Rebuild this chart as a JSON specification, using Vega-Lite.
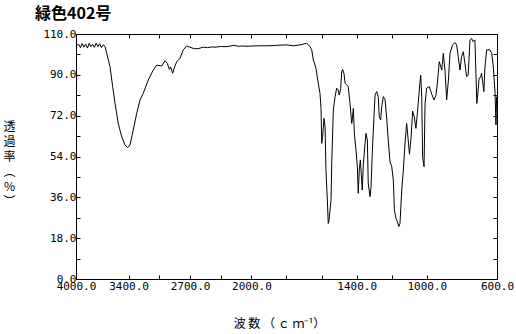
{
  "$schema": "https://vega.github.io/schema/vega-lite/v6.json",
  "width": 421,
  "height": 245,
  "autosize": {"type": "none"},
  "padding": {"left": 76, "top": 34, "right": 19, "bottom": 55},
  "background": "white",
  "title": {
    "text": "緑色402号",
    "anchor": "start",
    "frame": "group",
    "font": "Noto Sans CJK JP",
    "fontSize": 16,
    "fontWeight": "bold",
    "color": "black",
    "dx": -41,
    "dy": -2
  },
  "config": {
    "view": {"stroke": "black", "strokeWidth": 1},
    "axis": {
      "domainColor": "black",
      "tickColor": "black",
      "labelColor": "black",
      "titleColor": "black",
      "grid": false,
      "labelFont": "DejaVu Sans Mono",
      "labelFontSize": 11,
      "labelOverlap": false,
      "labelFlush": false,
      "labelBound": false,
      "tickSize": -4
    }
  },
  "data": {
    "values": [
      {"wn": 3992, "t": 102.8}, {"wn": 3970, "t": 103.5}, {"wn": 3950, "t": 102.0}, {"wn": 3930, "t": 103.8},
      {"wn": 3910, "t": 102.2}, {"wn": 3890, "t": 103.6}, {"wn": 3870, "t": 101.8}, {"wn": 3850, "t": 103.9},
      {"wn": 3830, "t": 102.4}, {"wn": 3810, "t": 103.5}, {"wn": 3790, "t": 102.1}, {"wn": 3770, "t": 104.0},
      {"wn": 3750, "t": 102.5}, {"wn": 3730, "t": 103.7}, {"wn": 3710, "t": 102.0}, {"wn": 3690, "t": 103.2},
      {"wn": 3669, "t": 102.5}, {"wn": 3650, "t": 99.5}, {"wn": 3612, "t": 93.6}, {"wn": 3582, "t": 84.8},
      {"wn": 3555, "t": 77.4}, {"wn": 3518, "t": 68.6}, {"wn": 3479, "t": 62.7}, {"wn": 3441, "t": 59.1},
      {"wn": 3411, "t": 57.9}, {"wn": 3384, "t": 59.1}, {"wn": 3347, "t": 65.7}, {"wn": 3308, "t": 73.0},
      {"wn": 3270, "t": 78.9}, {"wn": 3233, "t": 81.9}, {"wn": 3176, "t": 87.7}, {"wn": 3119, "t": 92.1},
      {"wn": 3080, "t": 94.3}, {"wn": 3023, "t": 93.9}, {"wn": 2985, "t": 96.2}, {"wn": 2959, "t": 95.1},
      {"wn": 2936, "t": 92.4}, {"wn": 2920, "t": 93.5}, {"wn": 2898, "t": 90.7}, {"wn": 2875, "t": 93.5},
      {"wn": 2852, "t": 95.8}, {"wn": 2814, "t": 97.3}, {"wn": 2777, "t": 101.0}, {"wn": 2738, "t": 102.7},
      {"wn": 2700, "t": 102.2}, {"wn": 2650, "t": 101.5}, {"wn": 2600, "t": 101.6}, {"wn": 2550, "t": 102.2},
      {"wn": 2500, "t": 102.0}, {"wn": 2450, "t": 102.3}, {"wn": 2400, "t": 102.2}, {"wn": 2350, "t": 102.5},
      {"wn": 2300, "t": 102.4}, {"wn": 2250, "t": 102.6}, {"wn": 2200, "t": 103.0}, {"wn": 2150, "t": 102.6},
      {"wn": 2100, "t": 102.7}, {"wn": 2050, "t": 102.6}, {"wn": 2000, "t": 102.7}, {"wn": 1950, "t": 102.8},
      {"wn": 1900, "t": 102.8}, {"wn": 1856, "t": 103.0}, {"wn": 1800, "t": 103.2}, {"wn": 1760, "t": 102.8},
      {"wn": 1723, "t": 103.2}, {"wn": 1685, "t": 103.9}, {"wn": 1666, "t": 102.5}, {"wn": 1656, "t": 101.0},
      {"wn": 1647, "t": 96.5}, {"wn": 1632, "t": 92.9}, {"wn": 1619, "t": 86.3}, {"wn": 1609, "t": 81.9},
      {"wn": 1603, "t": 75.2}, {"wn": 1599, "t": 59.8}, {"wn": 1594, "t": 62.7}, {"wn": 1586, "t": 70.8},
      {"wn": 1580, "t": 67.1}, {"wn": 1575, "t": 48.0}, {"wn": 1567, "t": 34.8}, {"wn": 1562, "t": 24.5},
      {"wn": 1558, "t": 25.5}, {"wn": 1552, "t": 30.4}, {"wn": 1546, "t": 34.8}, {"wn": 1542, "t": 51.0},
      {"wn": 1533, "t": 74.5}, {"wn": 1523, "t": 80.4}, {"wn": 1514, "t": 84.1}, {"wn": 1506, "t": 83.4},
      {"wn": 1499, "t": 81.1}, {"wn": 1491, "t": 84.0}, {"wn": 1485, "t": 91.4}, {"wn": 1480, "t": 92.4},
      {"wn": 1472, "t": 90.5}, {"wn": 1466, "t": 86.3}, {"wn": 1448, "t": 84.8}, {"wn": 1438, "t": 77.4},
      {"wn": 1428, "t": 68.6}, {"wn": 1424, "t": 71.0}, {"wn": 1419, "t": 75.2}, {"wn": 1413, "t": 64.2},
      {"wn": 1404, "t": 56.9}, {"wn": 1396, "t": 49.5}, {"wn": 1391, "t": 37.8}, {"wn": 1385, "t": 48.0},
      {"wn": 1379, "t": 52.5}, {"wn": 1374, "t": 46.6}, {"wn": 1368, "t": 39.2}, {"wn": 1362, "t": 50.5},
      {"wn": 1352, "t": 59.8}, {"wn": 1347, "t": 64.2}, {"wn": 1339, "t": 61.3}, {"wn": 1334, "t": 42.2},
      {"wn": 1324, "t": 36.3}, {"wn": 1318, "t": 40.5}, {"wn": 1311, "t": 55.4}, {"wn": 1305, "t": 65.7},
      {"wn": 1295, "t": 81.1}, {"wn": 1286, "t": 82.6}, {"wn": 1277, "t": 80.4}, {"wn": 1271, "t": 71.5},
      {"wn": 1263, "t": 70.1}, {"wn": 1257, "t": 76.0}, {"wn": 1248, "t": 80.4}, {"wn": 1238, "t": 79.0},
      {"wn": 1228, "t": 70.1}, {"wn": 1220, "t": 61.3}, {"wn": 1210, "t": 51.7}, {"wn": 1200, "t": 49.5},
      {"wn": 1191, "t": 43.6}, {"wn": 1185, "t": 30.4}, {"wn": 1176, "t": 26.8}, {"wn": 1168, "t": 25.3},
      {"wn": 1160, "t": 23.1}, {"wn": 1153, "t": 24.5}, {"wn": 1143, "t": 39.2}, {"wn": 1134, "t": 48.0},
      {"wn": 1124, "t": 60.0}, {"wn": 1115, "t": 68.6}, {"wn": 1107, "t": 62.0}, {"wn": 1099, "t": 55.0},
      {"wn": 1090, "t": 62.0}, {"wn": 1081, "t": 74.0}, {"wn": 1072, "t": 71.5}, {"wn": 1062, "t": 66.4},
      {"wn": 1054, "t": 73.0}, {"wn": 1043, "t": 83.3}, {"wn": 1035, "t": 89.9}, {"wn": 1029, "t": 80.0},
      {"wn": 1024, "t": 53.9}, {"wn": 1016, "t": 49.5}, {"wn": 1010, "t": 77.4}, {"wn": 1001, "t": 84.1},
      {"wn": 986, "t": 84.8}, {"wn": 972, "t": 81.5}, {"wn": 959, "t": 78.9}, {"wn": 948, "t": 81.0},
      {"wn": 940, "t": 86.3}, {"wn": 929, "t": 95.8}, {"wn": 915, "t": 92.1}, {"wn": 906, "t": 99.5},
      {"wn": 896, "t": 91.5}, {"wn": 887, "t": 78.9}, {"wn": 877, "t": 87.7}, {"wn": 868, "t": 99.5},
      {"wn": 853, "t": 103.2}, {"wn": 839, "t": 104.2}, {"wn": 830, "t": 103.2}, {"wn": 821, "t": 98.0},
      {"wn": 811, "t": 92.1}, {"wn": 802, "t": 98.0}, {"wn": 792, "t": 100.2}, {"wn": 783, "t": 95.0},
      {"wn": 773, "t": 89.2}, {"wn": 764, "t": 89.9}, {"wn": 754, "t": 105.4}, {"wn": 745, "t": 106.1},
      {"wn": 736, "t": 104.6}, {"wn": 726, "t": 105.4}, {"wn": 720, "t": 90.7}, {"wn": 715, "t": 77.4},
      {"wn": 709, "t": 82.0}, {"wn": 702, "t": 88.5}, {"wn": 694, "t": 88.9}, {"wn": 688, "t": 90.7},
      {"wn": 682, "t": 87.0}, {"wn": 675, "t": 82.6}, {"wn": 669, "t": 93.0}, {"wn": 659, "t": 101.0},
      {"wn": 640, "t": 101.0}, {"wn": 630, "t": 99.5}, {"wn": 621, "t": 93.6}, {"wn": 611, "t": 81.9},
      {"wn": 606, "t": 67.9}, {"wn": 602, "t": 80.4}
    ]
  },
  "layer": [
    {
      "mark": {"type": "line", "color": "black", "strokeWidth": 1, "interpolate": "linear"},
      "encoding": {
        "x": {
          "field": "wn",
          "type": "quantitative",
          "scale": {"domain": [4000, 2000, 600], "range": [0, 175.4, 421], "nice": false, "zero": false},
          "axis": {
            "orient": "bottom",
            "values": [4000, 3400, 3050, 2700, 2350, 2000, 1800, 1600, 1400, 1200, 1000, 600],
            "labelExpr": "indexof([4000,3400,2700,2000,1400,1000,600], datum.value) >= 0 ? format(datum.value, '.1f') : ''",
            "labelPadding": 5,
            "title": "波 数 （ ｃ ｍ⁻¹）",
            "titleFont": "Noto Sans CJK JP",
            "titleFontSize": 12,
            "titleFontWeight": "normal",
            "titleX": 203,
            "titleY": 51,
            "titleAlign": "center",
            "titleBaseline": "bottom"
          }
        },
        "y": {
          "field": "t",
          "type": "quantitative",
          "scale": {"domain": [0, 108], "nice": false, "zero": false},
          "axis": {
            "orient": "left",
            "values": [0, 9, 18, 27, 36, 45, 54, 63, 72, 81, 90, 99, 108],
            "labelExpr": "datum.value % 18 == 0 ? (datum.value == 108 ? '110.0' : format(datum.value, '.1f')) : ''",
            "labelPadding": 4,
            "title": ["透", "過", "率", "︵", "%", "︶"],
            "titleAngle": 0,
            "titleFont": "Noto Sans CJK JP",
            "titleFontSize": 12,
            "titleFontWeight": "normal",
            "titleLineHeight": 15,
            "titleX": -67,
            "titleY": 87,
            "titleAlign": "center",
            "titleBaseline": "top"
          }
        }
      }
    },
    {
      "mark": {"type": "line", "opacity": 0},
      "encoding": {
        "x": {
          "field": "wn",
          "type": "quantitative",
          "axis": {
            "orient": "top",
            "values": [3400, 3050, 2700, 2350, 2000, 1800, 1600, 1400, 1200, 1000],
            "labels": false,
            "title": null
          }
        },
        "y": {
          "field": "t",
          "type": "quantitative",
          "axis": {
            "orient": "right",
            "values": [9, 18, 27, 36, 45, 54, 63, 72, 81, 90, 99],
            "labels": false,
            "title": null
          }
        }
      }
    }
  ],
  "resolve": {"axis": {"x": "independent", "y": "independent"}}
}
